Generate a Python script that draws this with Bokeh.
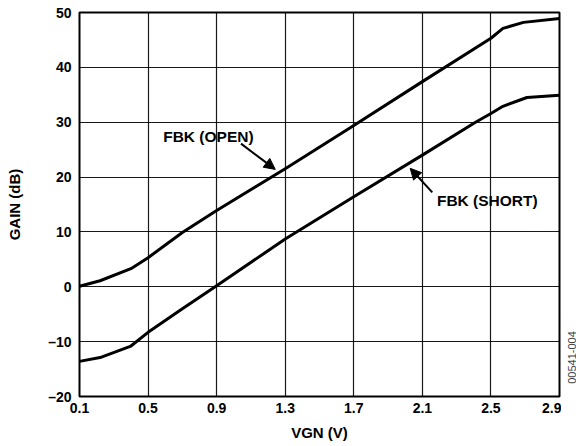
import math
from bokeh.plotting import figure
from bokeh.layouts import row
from bokeh.models import FixedTicker, Label, Arrow, NormalHead
from bokeh.core.properties import value
from bokeh.embed import file_html
from bokeh.resources import INLINE

# ---- data ----
vgn_open = [0.1, 0.22, 0.4, 0.5, 0.7, 0.9, 1.3, 1.7, 2.1, 2.5, 2.57, 2.69, 2.9]
gain_open = [0.1, 1.1, 3.3, 5.3, 9.9, 13.9, 21.5, 29.4, 37.4, 45.3, 47.1, 48.2, 48.9]

vgn_short = [0.1, 0.22, 0.4, 0.5, 0.7, 0.9, 1.3, 1.7, 2.1, 2.41, 2.5, 2.57, 2.71, 2.9]
gain_short = [-13.6, -12.9, -10.8, -8.3, -4.0, 0.2, 8.7, 16.4, 24.0, 30.0, 31.6, 32.9, 34.5, 34.9]

x_ticks = [0.1, 0.5, 0.9, 1.3, 1.7, 2.1, 2.5, 2.9]
y_ticks = [-20, -10, 0, 10, 20, 30, 40, 50]
y_tick_labels = ["–20", "–10", "0", "10", "20", "30", "40", "50"]
figure_code = "00541-004"

FONT = "Liberation Sans"

p = figure(frame_width=480, frame_height=384, x_range=(0.1, 2.9), y_range=(-20, 50),
           output_backend="svg", toolbar_location=None,
           min_border_left=79, min_border_right=2, min_border_top=12, min_border_bottom=50)
p.background_fill_color = "white"
p.border_fill_color = "white"
p.outline_line_color = "black"
p.outline_line_width = 2

p.xaxis.ticker = FixedTicker(ticks=x_ticks)
p.yaxis.ticker = FixedTicker(ticks=y_ticks)
p.yaxis.major_label_overrides = {t: l for t, l in zip(y_ticks, y_tick_labels)}

for ax in (p.xaxis, p.yaxis):
    ax.axis_line_color = None
    ax.major_tick_line_color = None
    ax.minor_tick_line_color = None
    ax.major_tick_out = 0
    ax.major_tick_in = 0
    ax.minor_tick_out = 0
    ax.major_label_text_font = FONT
    ax.major_label_text_font_style = "bold"
    ax.major_label_text_font_size = "14px"
    ax.major_label_text_color = "black"
    ax.axis_label_text_font = FONT
    ax.axis_label_text_font_style = "bold"
    ax.axis_label_text_font_size = "15px"
    ax.axis_label_text_color = "black"
p.xaxis.major_label_standoff = 6
p.yaxis.major_label_standoff = 8

p.xaxis.axis_label = "VGN (V)"
p.xaxis.axis_label_standoff = 8
p.yaxis.axis_label = "GAIN (dB)"
p.yaxis.axis_label_standoff = 22

p.grid.grid_line_color = "black"
p.grid.grid_line_width = 1.2
p.grid.grid_line_alpha = 0.9

p.line(vgn_open, gain_open, line_color="black", line_width=3, line_join="round")
p.line(vgn_short, gain_short, line_color="black", line_width=3, line_join="round")

p.add_layout(Label(x=0.588, y=27.4, text="FBK (OPEN)", text_font=FONT,
                   text_font_style="bold", text_font_size="15.5px", text_color="black",
                   text_align="left", text_baseline="middle"))
p.add_layout(Label(x=2.185, y=15.7, text="FBK (SHORT)", text_font=FONT,
                   text_font_style="bold", text_font_size="15.5px", text_color="black",
                   text_align="left", text_baseline="middle"))

p.add_layout(Arrow(x_start=1.042, y_start=26.1, x_end=1.242, y_end=21.4,
                   line_color="black", line_width=2,
                   end=NormalHead(size=11, fill_color="black", line_color="black")))
p.add_layout(Arrow(x_start=2.158, y_start=17.2, x_end=2.029, y_end=21.6,
                   line_color="black", line_width=2,
                   end=NormalHead(size=11, fill_color="black", line_color="black")))

# narrow strip on the right carrying the vertical figure code
side = figure(frame_width=15, frame_height=446, x_range=(0, 15), y_range=(0, 446),
              output_backend="svg", toolbar_location=None,
              min_border_left=0, min_border_right=0, min_border_top=0, min_border_bottom=0)
side.axis.visible = False
side.grid.visible = False
side.outline_line_color = None
side.background_fill_color = "white"
side.border_fill_color = "white"
side.text(x=[10], y=[101], text=[figure_code], angle=math.pi / 2,
          text_font=value(FONT), text_font_size="11px", text_color="#444444",
          text_align="center", text_baseline="middle")

open("out.html", "w").write(file_html(row(p, side), INLINE))
